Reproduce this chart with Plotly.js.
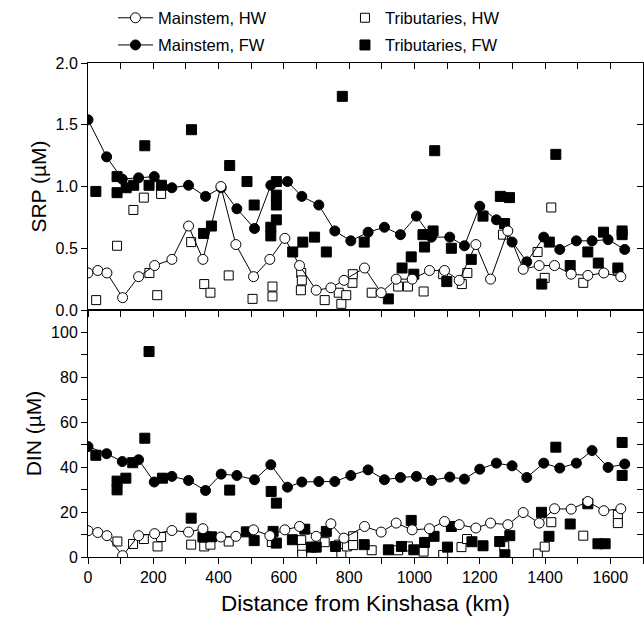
<!DOCTYPE html>
<html>
<head>
<meta charset="utf-8">
<script src="https://cdn.plot.ly/plotly-3.0.1.min.js"></script>
<style>html,body{margin:0;padding:0;background:#fff;}#chart{width:644px;height:629px;}</style>
</head>
<body>
<div id="chart"></div>
<script>
// Mainstem, FW (filled circles, line)
const mainFW_x = [0, 57, 105, 155, 203, 257, 308, 360, 408, 456, 510, 560, 611, 655, 707, 756, 805, 858, 908, 957, 1006, 1052, 1108, 1153, 1200, 1251, 1299, 1344, 1396, 1445, 1496, 1544, 1593, 1644];
const mainFW_srp = [1.54, 1.24, 1.06, 1.07, 1.08, 0.99, 1.01, 0.92, 0.99, 0.82, 0.66, 1.01, 1.04, 0.92, 0.85, 0.64, 0.56, 0.63, 0.67, 0.61, 0.76, 0.59, 0.59, 0.52, 0.84, 0.73, 0.55, 0.39, 0.59, 0.49, 0.56, 0.56, 0.57, 0.49];
const mainFW_din = [49.2, 46, 42.5, 43.3, 33.4, 35.9, 34.1, 29.6, 36.9, 36.3, 34.4, 41.1, 31.1, 33.4, 33.6, 33.6, 36.3, 38.8, 34.4, 35.4, 35.9, 34.1, 35.6, 34.7, 39.1, 41.8, 40.6, 35.4, 41.8, 39.6, 41.8, 47.4, 39.9, 41.4];

// Mainstem, HW (open circles, line)
const mainHW_x = [0, 30, 58, 106, 155, 204, 257, 308, 352, 407, 453, 507, 557, 603, 648, 699, 744, 784, 847, 898, 944, 993, 1046, 1092, 1137, 1188, 1233, 1286, 1333, 1382, 1429, 1480, 1531, 1580, 1632];
const mainHW_srp = [0.30, 0.32, 0.30, 0.10, 0.27, 0.36, 0.41, 0.68, 0.41, 1.00, 0.53, 0.27, 0.41, 0.58, 0.36, 0.16, 0.18, 0.24, 0.34, 0.14, 0.25, 0.25, 0.32, 0.32, 0.24, 0.53, 0.25, 0.64, 0.33, 0.36, 0.36, 0.29, 0.28, 0.30, 0.27];
const mainHW_din = [11.7, 10.9, 9.5, 0.6, 9.5, 10.4, 11.8, 11.1, 12.6, 8.9, 9.2, 12.1, 9.5, 12.1, 13.6, 9.2, 14.8, 8.4, 13.6, 11.1, 15.1, 12.1, 12.6, 15.8, 14.4, 12.9, 15.1, 14.4, 19.8, 15.1, 21.5, 21.3, 24.7, 20.6, 21.5];

// Tributaries, FW (filled squares)
const tribFW_srp_x = [24, 89, 89, 117, 140, 174, 187, 225, 317, 354, 378, 434, 487, 509, 560, 560, 577, 577, 577, 577, 627, 658, 694, 730, 779, 846, 920, 962, 990, 998, 1026, 1031, 1057, 1062, 1099, 1113, 1174, 1210, 1263, 1276, 1291, 1390, 1413, 1433, 1477, 1531, 1563, 1579, 1623, 1636, 1636];
const tribFW_srp = [0.96, 1.08, 0.95, 0.99, 1.01, 1.33, 1.01, 1.01, 1.46, 0.62, 0.68, 1.17, 1.04, 0.85, 0.67, 0.60, 1.04, 0.93, 0.85, 0.73, 0.47, 0.55, 0.59, 0.47, 1.73, 0.55, 0.09, 0.34, 0.43, 0.29, 0.61, 0.51, 0.64, 1.29, 0.23, 0.50, 0.41, 0.76, 0.92, 0.70, 0.91, 0.21, 0.55, 1.26, 0.36, 0.47, 0.38, 0.63, 0.34, 0.64, 0.61];
const tribFW_din_x = [24, 89, 89, 116, 137, 174, 187, 228, 316, 352, 378, 434, 485, 509, 561, 567, 577, 577, 626, 664, 684, 699, 730, 758, 846, 920, 960, 990, 998, 1031, 1060, 1101, 1113, 1176, 1210, 1261, 1277, 1292, 1389, 1412, 1433, 1477, 1531, 1562, 1584, 1636, 1636];
const tribFW_din = [45.3, 33.8, 29.9, 35.1, 42.0, 52.9, 91.5, 35.1, 17.3, 8.9, 9.0, 29.8, 11.2, 7.3, 29.2, 11.4, 24.0, 6.2, 7.7, 12.4, 4.4, 4.4, 11.4, 4.7, 5.5, 3.2, 4.7, 16.3, 3.2, 6.5, 9.2, 4.4, 13.6, 6.8, 5.0, 6.9, 1.0, 9.5, 19.9, 9.2, 48.9, 14.7, 23.7, 5.9, 5.9, 51.0, 36.3];

// Tributaries, HW (open squares)
const tribHW_srp_x = [25, 89, 139, 171, 188, 212, 224, 316, 356, 375, 431, 504, 565, 565, 652, 653, 655, 725, 768, 776, 791, 810, 811, 869, 950, 980, 1028, 1088, 1145, 1162, 1271, 1377, 1399, 1419, 1517, 1623];
const tribHW_srp = [0.08, 0.52, 0.81, 0.91, 0.30, 0.12, 0.94, 0.55, 0.21, 0.14, 0.28, 0.09, 0.19, 0.11, 0.16, 0.30, 0.24, 0.08, 0.14, 0.05, 0.12, 0.22, 0.29, 0.14, 0.19, 0.19, 0.15, 0.29, 0.21, 0.30, 0.61, 0.47, 0.26, 0.83, 0.22, 0.32];
const tribHW_din_x = [90, 138, 171, 213, 224, 316, 356, 375, 431, 563, 653, 656, 656, 725, 769, 776, 793, 812, 812, 869, 950, 980, 1028, 1088, 1144, 1161, 1275, 1378, 1399, 1419, 1517, 1623, 1623];
const tribHW_din = [6.9, 5.8, 8.0, 4.7, 8.9, 5.5, 4.7, 5.5, 6.9, 6.7, 7.5, 3.6, 1.0, 6.6, 5.5, 1.8, 4.7, 9.2, 5.3, 3.0, 3.0, 4.7, 2.4, 0.9, 4.4, 8.0, 4.8, 1.5, 4.6, 15.5, 9.5, 18.8, 15.1];

const FONT = 'Liberation Sans, Arial, sans-serif';
const sqHW = {symbol: 'square', size: 9, color: '#ffffff', line: {color: '#000', width: 1}};
const sqFW = {symbol: 'square', size: 10, color: '#000000', line: {color: '#000', width: 1}};
const ciHW = {symbol: 'circle', size: 10, color: '#ffffff', line: {color: '#000', width: 1}};
const ciFW = {symbol: 'circle', size: 10, color: '#000000', line: {color: '#000', width: 1}};
const ln = {color: '#000', width: 1};

const traces = [
  // top panel (SRP)
  {x: tribHW_srp_x, y: tribHW_srp, xaxis: 'x2', yaxis: 'y2', mode: 'markers', marker: sqHW, name: 'Tributaries, HW', legend: 'legend3'},
  {x: tribFW_srp_x, y: tribFW_srp, xaxis: 'x2', yaxis: 'y2', mode: 'markers', marker: sqFW, name: 'Tributaries, FW', legend: 'legend4'},
  {x: mainFW_x, y: mainFW_srp, xaxis: 'x2', yaxis: 'y2', mode: 'lines+markers', line: ln, marker: ciFW, name: 'Mainstem, FW', legend: 'legend2'},
  {x: mainHW_x, y: mainHW_srp, xaxis: 'x2', yaxis: 'y2', mode: 'lines+markers', line: ln, marker: ciHW, name: 'Mainstem, HW', legend: 'legend'},
  // bottom panel (DIN)
  {x: tribHW_din_x, y: tribHW_din, xaxis: 'x', yaxis: 'y', mode: 'markers', marker: sqHW, showlegend: false},
  {x: tribFW_din_x, y: tribFW_din, xaxis: 'x', yaxis: 'y', mode: 'markers', marker: sqFW, showlegend: false},
  {x: mainFW_x, y: mainFW_din, xaxis: 'x', yaxis: 'y', mode: 'lines+markers', line: ln, marker: ciFW, showlegend: false},
  {x: mainHW_x, y: mainHW_din, xaxis: 'x', yaxis: 'y', mode: 'lines+markers', line: ln, marker: ciHW, showlegend: false},
  // dummy traces for mirror axes
  {x: [], y: [], xaxis: 'x3', yaxis: 'y3', mode: 'markers', showlegend: false, hoverinfo: 'skip'},
  {x: [], y: [], xaxis: 'x4', yaxis: 'y4', mode: 'markers', showlegend: false, hoverinfo: 'skip'}
];

const XR = [0, 1700];
const base = {showgrid: false, zeroline: false, showline: true, linecolor: '#000', linewidth: 1, tickcolor: '#000', tickwidth: 1, ticklen: 6, color: '#000'};
const tf = {family: FONT, size: 16, color: '#000'};
const legFont = {family: FONT, size: 16.5, color: '#000'};

const layout = {
  width: 644, height: 629,
  margin: {l: 88, r: 1, t: 63, b: 72},
  paper_bgcolor: '#fff', plot_bgcolor: '#fff',
  font: {family: FONT, color: '#000'},
  xaxis: Object.assign({}, base, {anchor: 'y', domain: [0, 1], range: XR, dtick: 200, tick0: 0, ticks: 'outside',
    minor: {dtick: 100, ticks: 'outside', ticklen: 6, tickcolor: '#000'}, tickfont: tf,
    title: {text: 'Distance from Kinshasa (km)', font: {family: FONT, size: 22.5, color: '#000'}, standoff: 10}}),
  yaxis: Object.assign({}, base, {anchor: 'x', domain: [0, 0.5], range: [0, 110], dtick: 20, tick0: 0, ticks: 'outside',
    minor: {dtick: 10, ticks: 'outside', ticklen: 6, tickcolor: '#000'}, tickfont: tf,
    title: {text: 'DIN (µM)', font: {family: FONT, size: 21, color: '#000'}, standoff: 3}}),
  xaxis2: Object.assign({}, base, {anchor: 'y2', domain: [0, 1], range: XR, dtick: 100, ticks: 'outside', showticklabels: false}),
  yaxis2: Object.assign({}, base, {anchor: 'x2', domain: [0.5, 1], range: [0, 2], dtick: 0.5, tick0: 0, tickformat: '.1f', ticks: 'outside', tickfont: tf,
    title: {text: 'SRP (µM)', font: {family: FONT, size: 21, color: '#000'}, standoff: 3}}),
  xaxis3: Object.assign({}, base, {overlaying: 'x2', anchor: 'y3', side: 'top', range: XR, dtick: 100, ticks: 'inside', showticklabels: false}),
  yaxis3: Object.assign({}, base, {overlaying: 'y2', anchor: 'x3', side: 'right', range: [0, 2], dtick: 0.5, ticks: 'inside', showticklabels: false}),
  xaxis4: Object.assign({}, base, {overlaying: 'x', anchor: 'y4', side: 'top', range: XR, dtick: 100, ticks: 'inside', showticklabels: false}),
  yaxis4: Object.assign({}, base, {overlaying: 'y', anchor: 'x4', side: 'right', range: [0, 110], dtick: 10, ticks: 'inside', showticklabels: false}),
  showlegend: true,
  legend:  {x: 0.045, y: 1.091, xanchor: 'left', yanchor: 'middle', itemwidth: 35, bgcolor: 'rgba(0,0,0,0)', font: legFont},
  legend2: {x: 0.045, y: 1.036, xanchor: 'left', yanchor: 'middle', itemwidth: 35, bgcolor: 'rgba(0,0,0,0)', font: legFont},
  legend3: {x: 0.463, y: 1.091, xanchor: 'left', yanchor: 'middle', bgcolor: 'rgba(0,0,0,0)', font: legFont},
  legend4: {x: 0.463, y: 1.036, xanchor: 'left', yanchor: 'middle', bgcolor: 'rgba(0,0,0,0)', font: legFont}
};

Plotly.newPlot('chart', traces, layout, {staticPlot: true, displayModeBar: false});
</script>
</body>
</html>
